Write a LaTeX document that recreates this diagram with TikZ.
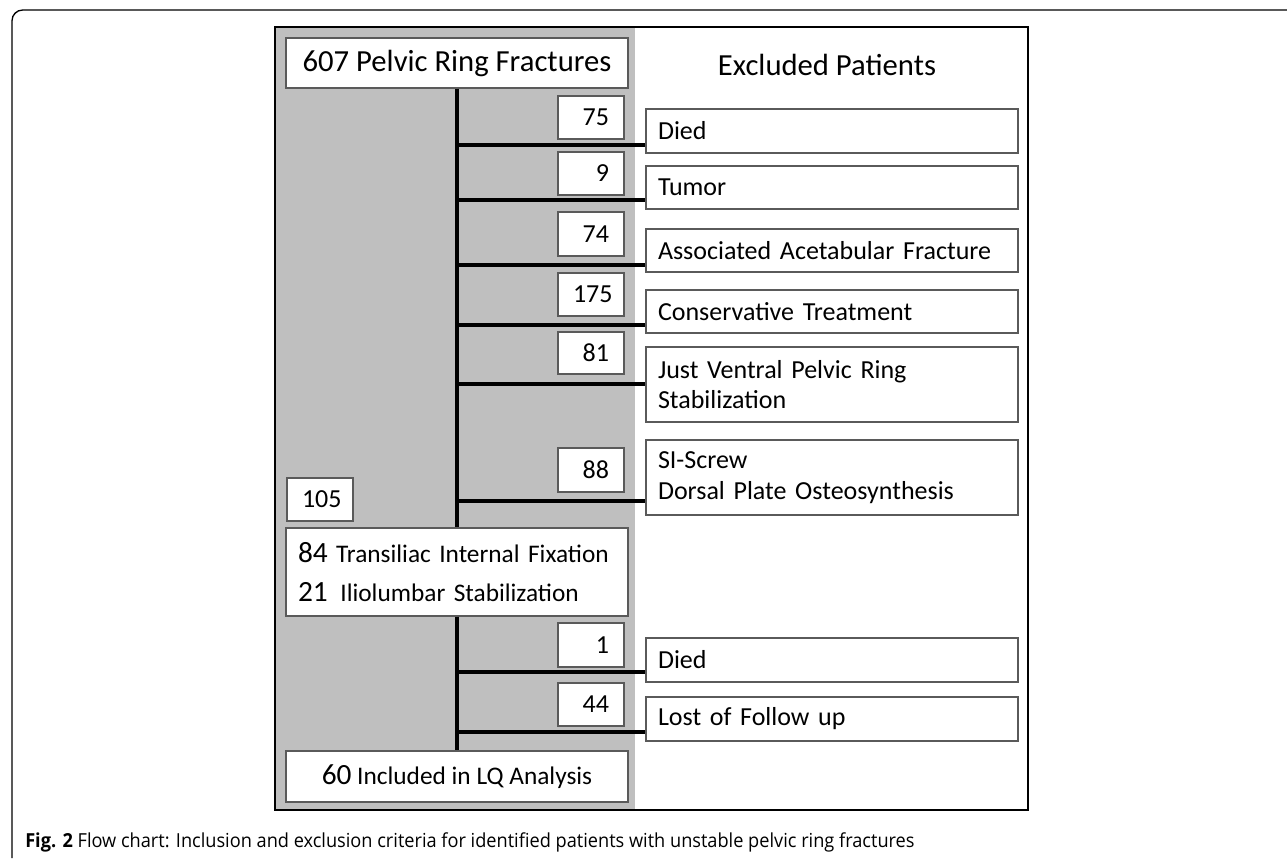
\documentclass[tikz,border=0pt]{standalone}
\usepackage{fontspec}
\setmainfont{Carlito}
\newfontfamily\capfont[FakeStretch=0.94]{Open Sans}
\definecolor{panelgray}{HTML}{BFBFBF}
\definecolor{boxline}{HTML}{5A5A5A}

\begin{document}
\begin{tikzpicture}[x=0.75pt,y=-0.75pt,
    flowbox/.style={draw=boxline,line width=1pt,fill=white,minimum width=256.5pt,inner sep=0pt},
    numbox/.style={draw=boxline,line width=1pt,fill=white,inner xsep=11.25pt,inner ysep=0pt,
        text width=27pt,align=right,font=\fontsize{19.5}{23}\selectfont},
    exbox/.style={draw=boxline,line width=1pt,fill=white,inner xsep=9pt,inner ysep=0pt,
        text width=261pt,align=left,font=\fontsize{19.5}{23}\selectfont},
    trunk/.style={line width=2.8pt},
    branch/.style={line width=2.6pt}]
\useasboundingbox (0,0) rectangle (1287,858);

% Frame
\draw[line width=1pt,rounded corners=8pt] (12,858) -- (12,10) -- (1287,10);
\fill[panelgray] (275,27) rectangle (635,810);
\draw[line width=2.2pt] (275,27) rectangle (1028,810);

% Included
\node[flowbox,minimum height=37.5pt,font=\fontsize{23}{27}\selectfont] (top) at (457,63) {607 Pelvic Ring Fractures};
\node[font=\fontsize{23}{27}\selectfont] (exhead) at (827,65) {Excluded Patients};
\node[numbox,minimum height=32.25pt] (n105) at (320,499.5) {105};
\node[flowbox,minimum height=66pt,text width=238.5pt,inner xsep=9pt,align=left,
    font=\fontsize{19}{29}\selectfont] (mid) at (457,572)
    {{\fontsize{22}{29}\selectfont 84} Transiliac Internal Fixation\\
     {\fontsize{22}{29}\selectfont 21}\, Iliolumbar Stabilization};
\node[flowbox,minimum height=38.25pt,font=\fontsize{19}{23}\selectfont] (bot) at (457,776.5)
    {{\fontsize{22}{26}\selectfont 60} Included in LQ Analysis};

\draw[trunk] (top.south) -- (mid.north);
\draw[trunk] (mid.south) -- (bot.north);

% Excluded
\foreach \i/\yl/\nt/\nb/\bt/\bb/\num/\txt in {
    1/145/96/139/109/153/75/Died,
    2/200/152/195/166/209/9/Tumor,
    3/265/212/256/229/272/74/Associated Acetabular Fracture,
    4/325/273/316/290/333/175/Conservative Treatment,
    5/384/332/374/347/422/81/{Just Ventral Pelvic Ring\\Stabilization},
    6/501/448/492/440/515/88/{SI-Screw\\Dorsal Plate Osteosynthesis},
    7/672/623/667/638/682/1/Died,
    8/732/683/726/697/741/44/Lost of Follow up} {
    \coordinate (j\i) at (457,\yl);
    \node[numbox,minimum height={(\nb-\nt)*0.75pt}] (n\i) at (591,{(\nt+\nb)/2}) {\num};
    \node[exbox,minimum height={(\bb-\bt)*0.75pt}] (x\i) at (832,{(\bt+\bb)/2}) {\txt};
    \draw[branch] (j\i) -- (j\i -| x\i.west);
}

% Caption
\node[anchor=base west,inner sep=0pt,font=\capfont\fontsize{14.5}{17}\selectfont] (cap) at (25,847)
    {\textbf{Fig. 2} Flow chart: Inclusion and exclusion criteria for identified patients with unstable pelvic ring fractures};
\end{tikzpicture}
\end{document}
